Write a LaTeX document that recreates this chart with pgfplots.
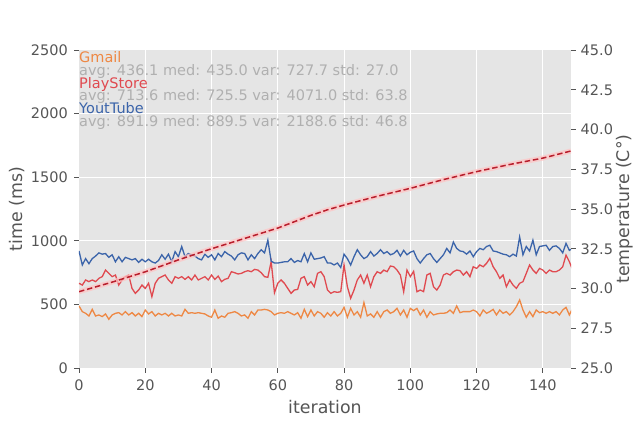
\documentclass[border=0pt]{standalone}
\usepackage{pgfplots}
\pgfplotsset{compat=1.18}
\usepackage{pgfplotstable}
\usepackage{fontspec}
\setmainfont{DejaVu Sans}

\definecolor{bg}{HTML}{E5E5E5}
\definecolor{tk}{HTML}{555555}
\definecolor{cg}{HTML}{EE8844}
\definecolor{cp}{HTML}{E04A50}
\definecolor{cy}{HTML}{3B64AA}
\definecolor{ct}{HTML}{B81E2C}
\definecolor{cb}{HTML}{FFC4C4}
\definecolor{cs}{HTML}{B0B0B0}

\pgfplotstableread{
i g p y
0 488 666 920
1 443 652 810
2 430 692 860
3 409 679 820
4 461 692 860
5 409 679 880
6 417 705 905
7 404 718 895
8 425 770 900
9 383 744 870
10 417 718 890
11 430 731 835
12 435 652 875
13 417 692 835
14 443 718 870
15 417 731 860
16 435 626 850
17 409 587 860
18 430 613 830
19 404 652 855
20 456 626 835
21 425 666 855
22 443 561 835
23 409 666 825
24 430 705 845
25 417 718 890
26 430 731 855
27 409 692 895
28 430 666 835
29 409 718 915
30 417 705 875
31 409 718 955
32 461 697 875
33 430 718 900
34 435 692 890
35 430 731 880
36 435 692 860
37 430 705 850
38 425 718 895
39 409 692 870
40 399 731 890
41 456 697 850
42 391 723 900
43 409 679 875
44 399 697 915
45 430 705 895
46 435 757 880
47 443 749 850
48 430 739 890
49 409 744 905
50 417 757 900
51 391 765 850
52 443 757 890
53 417 775 860
54 456 770 900
55 456 749 930
56 461 718 905
57 456 713 1005
58 443 836 840
59 417 592 825
60 430 666 825
61 435 692 830
62 430 666 835
63 443 626 835
64 430 587 860
65 417 613 830
66 435 618 845
67 391 705 835
68 461 718 900
69 404 652 835
70 456 679 905
71 409 639 855
72 443 744 860
73 430 757 865
74 399 718 875
75 435 613 825
76 409 587 825
77 443 600 810
78 409 595 825
79 430 600 790
80 477 810 895
81 399 639 860
82 469 548 810
83 417 613 875
84 443 692 930
85 399 731 890
86 515 666 860
87 409 731 875
88 425 639 915
89 399 718 880
90 443 757 900
91 399 744 930
92 443 770 900
93 456 757 915
94 430 802 890
95 443 796 900
96 469 770 925
97 417 731 880
98 456 600 925
99 399 770 890
100 469 718 910
101 451 760 920
102 469 600 860
103 417 613 825
104 456 600 860
105 399 731 890
106 443 744 900
107 417 639 860
108 425 613 830
109 430 652 860
110 430 731 890
111 435 744 940
112 456 731 905
113 430 757 990
114 488 770 940
115 435 765 920
116 443 731 915
117 443 757 895
118 443 718 920
119 456 796 875
120 443 783 915
121 409 810 940
122 456 796 930
123 430 823 955
124 443 862 965
125 461 796 920
126 417 757 915
127 456 705 905
128 430 731 895
129 443 639 890
130 417 692 875
131 443 652 895
132 482 626 880
133 535 666 1030
134 456 679 890
135 399 744 955
136 443 810 920
137 404 770 1005
138 456 744 890
139 435 783 955
140 443 770 960
141 430 744 965
142 443 770 925
143 430 757 955
144 443 757 960
145 417 770 940
146 456 796 905
147 477 888 980
148 417 836 925
149 469 770 940
}\runs

\pgfplotstableread{
i t
0 29.8
10 30.4
20 31.05
30 31.8
40 32.5
50 33.15
60 33.8
70 34.6
75 34.95
80 35.25
90 35.8
100 36.3
110 36.85
120 37.35
130 37.8
140 38.2
148.5 38.65
}\temp

\begin{document}
\begin{tikzpicture}
\path[use as bounding box] (-79bp,-54bp) rectangle (554bp,368bp);
\begin{axis}[
  at={(0,0)}, anchor=south west, scale only axis,
  width=492bp, height=318bp,
  xmin=0, xmax=148.5, ymin=0, ymax=2500,
  xtick={0,20,...,140}, ytick={0,500,...,2500},
  axis background/.style={fill=bg},
  axis line style={draw=none},
  grid=major, major grid style={white, line width=1bp},
  tick align=outside, tick pos=left, major tick length=4.5bp,
  tick style={tk, line width=0.8bp},
  ticklabel style={font=\fontsize{14.5bp}{17bp}\selectfont, text=tk, inner sep=0pt},
  yticklabel style={anchor=east, xshift=-6.5bp},
  xticklabel style={anchor=north, yshift=-7bp},
  /pgf/number format/assume math mode=true,
  scaled ticks=false,
  /pgf/number format/1000 sep={},
  xlabel={iteration}, ylabel={time (ms)},
  label style={font=\fontsize{17.4bp}{20bp}\selectfont, text=tk},
  xlabel style={at={(axis description cs:0.5,-0.1226)}, anchor=center},
  ylabel style={at={(axis description cs:-0.126,0.5)}, anchor=center},
]
\addplot[cg, line width=1.3bp, no marks] table[x=i, y=g] {\runs};
\addplot[cp, line width=1.3bp, no marks] table[x=i, y=p] {\runs};
\addplot[cy, line width=1.3bp, no marks] table[x=i, y=y] {\runs};
\begin{scope}[every node/.style={anchor=base west, inner sep=0pt, font=\fontsize{14.5bp}{17bp}\selectfont}]
\node[text=cg] at (axis cs:0,2400) {Gmail};
\node[text=cs] at (axis cs:0,2300) {avg: 436.1 med: 435.0 var: 727.7 std: 27.0};
\node[text=cp] at (axis cs:0,2200) {PlayStore};
\node[text=cs] at (axis cs:0,2100) {avg: 713.6 med: 725.5 var: 4071.0 std: 63.8};
\node[text=cy] at (axis cs:0,2000) {YoutTube};
\node[text=cs] at (axis cs:0,1900) {avg: 891.9 med: 889.5 var: 2188.6 std: 46.8};
\end{scope}
\end{axis}
\begin{axis}[
  at={(0,0)}, anchor=south west, scale only axis,
  width=492bp, height=318bp,
  xmin=0, xmax=148.5, ymin=25, ymax=45,
  axis x line=none, axis y line*=right,
  axis line style={draw=none},
  ytick={25,27.5,...,45},
  tick align=outside, major tick length=4.5bp,
  tick style={tk, line width=0.8bp},
  ticklabel style={font=\fontsize{14.5bp}{17bp}\selectfont, text=tk, inner sep=0pt},
  yticklabel style={anchor=west, xshift=5bp, /pgf/number format/.cd, fixed, fixed zerofill, precision=1},
  /pgf/number format/assume math mode=true,
  ylabel={temperature (C°)},
  label style={font=\fontsize{17.4bp}{20bp}\selectfont, text=tk},
  ylabel style={at={(axis description cs:1.11,0.5)}, anchor=center, rotate=0},
]
\addplot[cb, opacity=0.7, line width=5bp, no marks] table[x=i, y=t] {\temp};
\addplot[ct, line width=1.5bp, dash pattern=on 5.5bp off 2.8bp, no marks] table[x=i, y=t] {\temp};
\end{axis}
\end{tikzpicture}
\end{document}
